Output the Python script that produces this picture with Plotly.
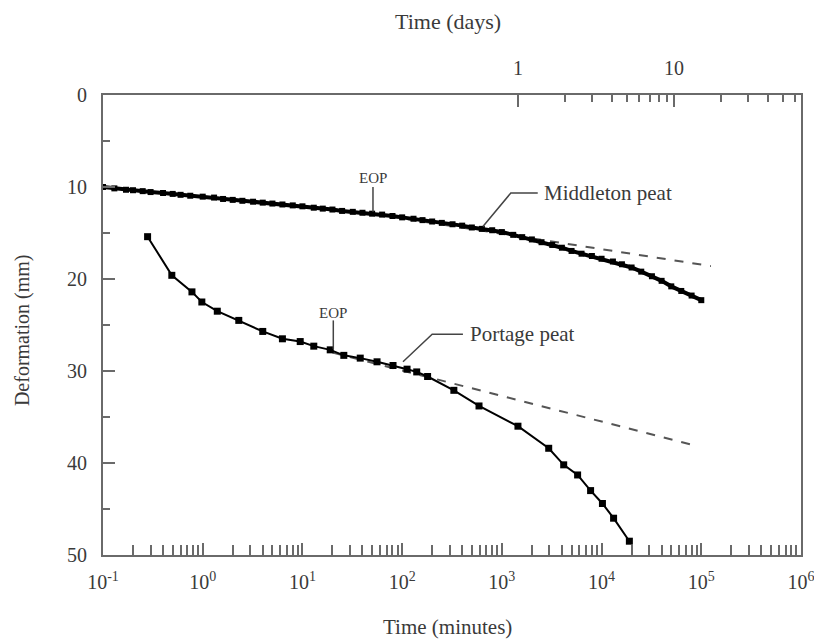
import plotly.graph_objects as go
import math

# ---------------- data ----------------
# Middleton peat (time in minutes, deformation in mm)
mid_t = [0.1, 0.13, 0.17, 0.2, 0.25, 0.3, 0.4, 0.5, 0.6, 0.75, 1.0, 1.3, 1.6, 2.0, 2.5,
         3.2, 4.0, 5.0, 6.3, 8.0, 10, 13, 16, 20, 25, 32, 40, 50, 63, 80, 100, 130, 160,
         200, 250, 320, 400, 500, 630, 800, 1000, 1300, 1600, 2000, 2500, 3200, 4000,
         5000, 6300, 8000, 10000, 13000, 16000, 20000, 25000, 32000, 40000, 50000,
         63000, 80000, 100000]
mid_d = [10.0, 10.15, 10.3, 10.35, 10.45, 10.55, 10.65, 10.75, 10.85, 10.95, 11.05, 11.15,
         11.3, 11.4, 11.5, 11.6, 11.7, 11.8, 11.9, 12.0, 12.1, 12.25, 12.35, 12.45, 12.6,
         12.7, 12.8, 12.9, 13.0, 13.15, 13.3, 13.45, 13.6, 13.75, 13.9, 14.05, 14.2, 14.4,
         14.55, 14.7, 14.9, 15.2, 15.45, 15.7, 16.0, 16.3, 16.6, 16.95, 17.25, 17.5, 17.8,
         18.1, 18.4, 18.75, 19.2, 19.7, 20.2, 20.8, 21.3, 21.8, 22.3]

# Portage peat
por_t = [0.28, 0.49, 0.78, 0.98, 1.4, 2.3, 4.0, 6.3, 9.5, 13, 19, 26, 38, 56, 81, 112,
         140, 180, 330, 590, 1450, 2950, 4170, 5750, 7760, 10200, 13200, 19000]
por_d = [15.4, 19.6, 21.4, 22.5, 23.5, 24.5, 25.7, 26.5, 26.8, 27.3, 27.7, 28.3, 28.6,
         29.0, 29.4, 29.8, 30.1, 30.6, 32.1, 33.8, 36.0, 38.4, 40.2, 41.3, 43.0, 44.4,
         46.0, 48.5]

# secondary-compression extrapolations (dashed)
mid_ext_t = [50, 125000]
mid_ext_d = [12.9, 18.6]
por_ext_t = [20, 80000]
por_ext_d = [28.0, 38.0]

# EOP markers and label leaders
mid_eop_t = [51, 51]
mid_eop_d = [10.0, 12.7]
por_eop_t = [20.4, 20.4]
por_eop_d = [24.5, 27.6]
mid_leader_t = [646, 1230, 2290]
mid_leader_d = [14.3, 10.65, 10.65]
por_leader_t = [102, 200, 407]
por_leader_d = [29.0, 26.0, 26.0]

# axes
x_major = [0.1, 1, 10, 100, 1000, 10000, 100000, 1000000]
x_major_text = ["10<sup>-1</sup>", "10<sup>0</sup>", "10<sup>1</sup>", "10<sup>2</sup>",
                "10<sup>3</sup>", "10<sup>4</sup>", "10<sup>5</sup>", "10<sup>6</sup>"]
day_major = [1, 10]
day_major_text = ["1", "10"]
day_minor = [2, 3, 4, 5, 6, 7, 8, 9, 20, 30, 40, 50, 60]
y_major = [0, 10, 20, 30, 40, 50]

FONT = "Liberation Serif"
TXT = "#3a3a3a"
AX = "#6a6a6a"

fig = go.Figure()

fig.add_trace(go.Scatter(x=mid_ext_t, y=mid_ext_d, mode="lines",
                         line=dict(color="#555555", width=2, dash="dash"), showlegend=False))
fig.add_trace(go.Scatter(x=por_ext_t, y=por_ext_d, mode="lines",
                         line=dict(color="#555555", width=2, dash="dash"), showlegend=False))
fig.add_trace(go.Scatter(x=mid_t, y=mid_d, mode="lines+markers",
                         line=dict(color="black", width=4),
                         marker=dict(symbol="square", size=6, color="black"), showlegend=False))
fig.add_trace(go.Scatter(x=por_t, y=por_d, mode="lines+markers",
                         line=dict(color="black", width=2),
                         marker=dict(symbol="square", size=7, color="black"), showlegend=False))
for tt, dd in [(mid_eop_t, mid_eop_d), (por_eop_t, por_eop_d),
               (mid_leader_t, mid_leader_d), (por_leader_t, por_leader_d)]:
    fig.add_trace(go.Scatter(x=tt, y=dd, mode="lines",
                             line=dict(color="#444444", width=1.5), showlegend=False))

# invisible trace to activate the top (days) axis
fig.add_trace(go.Scatter(x=[1, 10], y=[None, None], xaxis="x2", mode="markers",
                         marker=dict(opacity=0), showlegend=False, hoverinfo="skip"))

# page body adds an 8px margin, so the figure is 8px smaller in each direction
fig.update_layout(
    width=814, height=633,
    margin=dict(l=95, r=21, t=87, b=86, autoexpand=False),
    paper_bgcolor="white", plot_bgcolor="white",
    font=dict(family=FONT, color=TXT, size=20),
    xaxis=dict(type="log", range=[-1, 6], showgrid=False, zeroline=False, automargin=False,
               showline=True, linecolor=AX, linewidth=2,
               tickvals=x_major, ticktext=x_major_text, ticks="inside",
               ticklen=12, tickwidth=1.5, tickcolor=AX, ticklabelstandoff=8,
               minor=dict(ticks="inside", ticklen=10, tickwidth=1.5, tickcolor=AX,
                          dtick="D1", showgrid=False)),
    xaxis2=dict(type="log", range=[-2.66, 1.814], overlaying="x", side="top",
                automargin=False,
                showgrid=False, zeroline=False, showline=True, linecolor=AX, linewidth=2,
                tickvals=day_major, ticktext=day_major_text, ticks="inside",
                ticklen=12, tickwidth=1.5, tickcolor=AX, ticklabelstandoff=10,
                minor=dict(ticks="inside", ticklen=7, tickwidth=1.5, tickcolor=AX,
                           tickvals=day_minor, showgrid=False)),
    yaxis=dict(range=[50, 0], showgrid=False, zeroline=False, showline=True,
               automargin=False,
               linecolor=AX, linewidth=2, mirror=True,
               tickvals=y_major, ticks="inside", ticklen=12, tickwidth=1.5, tickcolor=AX,
               ticklabelstandoff=10,
               minor=dict(ticks="inside", ticklen=7, tickwidth=1.5, tickcolor=AX,
                          dtick=5, showgrid=False)),
)

# axis titles
titles = [
    ("Time (minutes)", 0.494, -0.157, 0, 21),
    ("Time (days)", 0.494, 1.159, 0, 22),
    ("Deformation (mm)", -0.116, 0.489, -90, 20),
]
for text, xp, yp, ang, size in titles:
    fig.add_annotation(x=xp, y=yp, xref="paper", yref="paper", text=text, textangle=ang,
                       showarrow=False, xanchor="center", yanchor="middle",
                       font=dict(family=FONT, size=size, color=TXT))

annos = [
    ("EOP", mid_eop_t[0], 9.0, "center", 15),
    ("EOP", por_eop_t[0], 23.7, "center", 15),
    ("Middleton peat", mid_leader_t[-1] * 1.1, mid_leader_d[-1], "left", 21),
    ("Portage peat", por_leader_t[-1] * 1.12, por_leader_d[-1], "left", 21),
]
for text, xv, yv, anchor, size in annos:
    fig.add_annotation(x=math.log10(xv), y=yv, xref="x", yref="y", text=text,
                       showarrow=False, xanchor=anchor, yanchor="middle",
                       font=dict(family=FONT, size=size, color=TXT))

fig.write_html("out.html")
